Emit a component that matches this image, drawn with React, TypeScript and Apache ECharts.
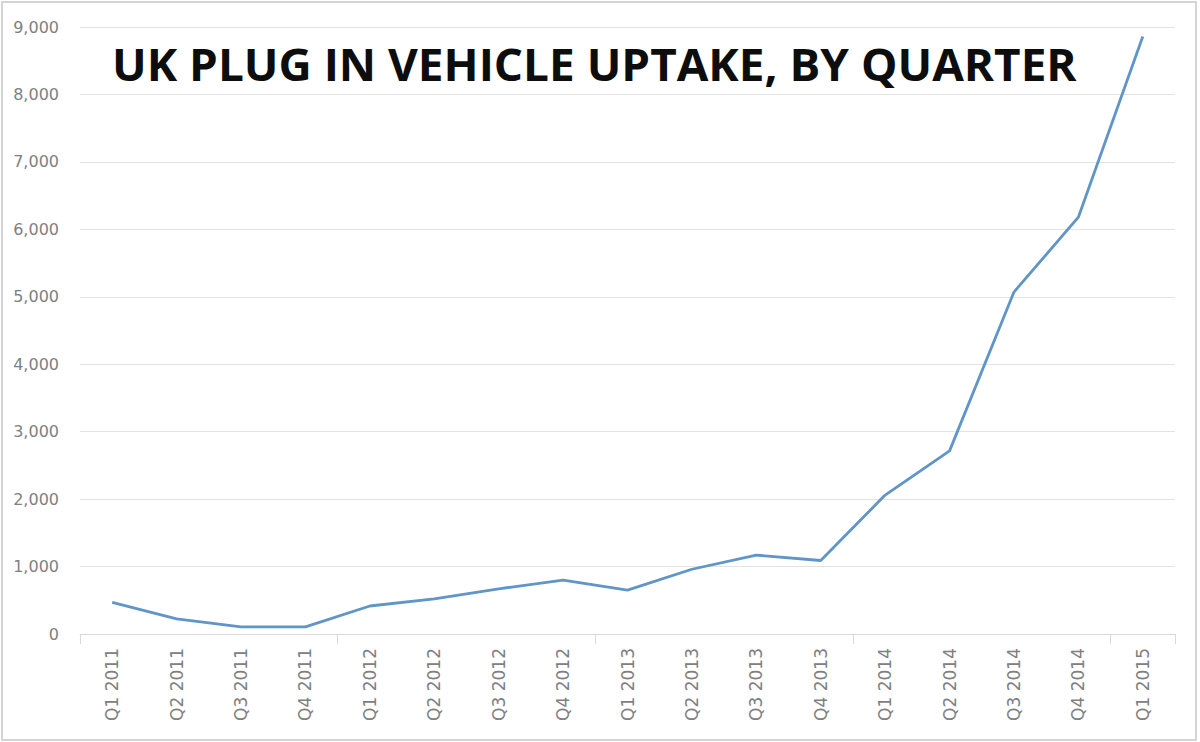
import React, { useEffect, useRef } from "react";
import * as echarts from "echarts";

const TITLE = "UK PLUG IN VEHICLE UPTAKE, BY QUARTER";
const quarters = [
  "Q1 2011", "Q2 2011", "Q3 2011", "Q4 2011",
  "Q1 2012", "Q2 2012", "Q3 2012", "Q4 2012",
  "Q1 2013", "Q2 2013", "Q3 2013", "Q4 2013",
  "Q1 2014", "Q2 2014", "Q3 2014", "Q4 2014",
  "Q1 2015",
];
const uptake = [470, 225, 105, 105, 415, 520, 670, 800, 650, 960, 1170, 1090, 2060, 2715, 5070, 6180, 8860];
const yMin = 0;
const yMax = 9000;
const yStep = 1000;

export default function App() {
  const ref = useRef<HTMLDivElement>(null);
  useEffect(() => {
    if (!ref.current) return;
    const chart = echarts.init(ref.current, null, { renderer: "svg" });
    chart.setOption({
      animation: false,
      backgroundColor: "#ffffff",
      grid: { left: 80, right: 25, top: 27, bottom: 108, containLabel: false },
      graphic: [
        {
          type: "rect",
          shape: { x: 2, y: 2, width: 1194, height: 738 },
          style: { fill: "none", stroke: "#d4d4d4", lineWidth: 2 },
          silent: true,
        },
        {
          type: "text",
          x: 112,
          y: 41,
          scaleX: 1.02,
          style: {
            text: TITLE,
            fontFamily: "Open Sans",
            fontWeight: "bold",
            fontSize: 45,
            fill: "#0d0d0d",
          },
          z: 10,
        },
      ],
      xAxis: {
        type: "category",
        data: quarters,
        boundaryGap: true,
        axisLine: { show: true, lineStyle: { color: "#d9d9d9", width: 1 } },
        axisTick: { show: true, interval: 3, length: 10, lineStyle: { color: "#d9d9d9" } },
        axisLabel: {
          rotate: 90,
          interval: 0,
          margin: 14,
          color: "#808080",
          fontFamily: "DejaVu Sans",
          fontSize: 17,
        },
      },
      yAxis: {
        type: "value",
        min: yMin,
        max: yMax,
        interval: yStep,
        axisLine: { show: false },
        axisTick: { show: false },
        splitLine: { lineStyle: { color: "#e3e3e3", width: 1 } },
        axisLabel: {
          margin: 21,
          color: "#808080",
          fontFamily: "DejaVu Sans",
          fontSize: 16,
          formatter: (v: number) => v.toLocaleString("en-US"),
        },
      },
      series: [
        {
          type: "line",
          data: uptake,
          symbol: "none",
          lineStyle: { color: "#5f95c7", width: 2.8 },
        },
      ],
    });
    return () => chart.dispose();
  }, []);
  return (
    <div
      ref={ref}
      style={{ position: "fixed", left: 0, top: 0, width: 1200, height: 742 }}
    />
  );
}
